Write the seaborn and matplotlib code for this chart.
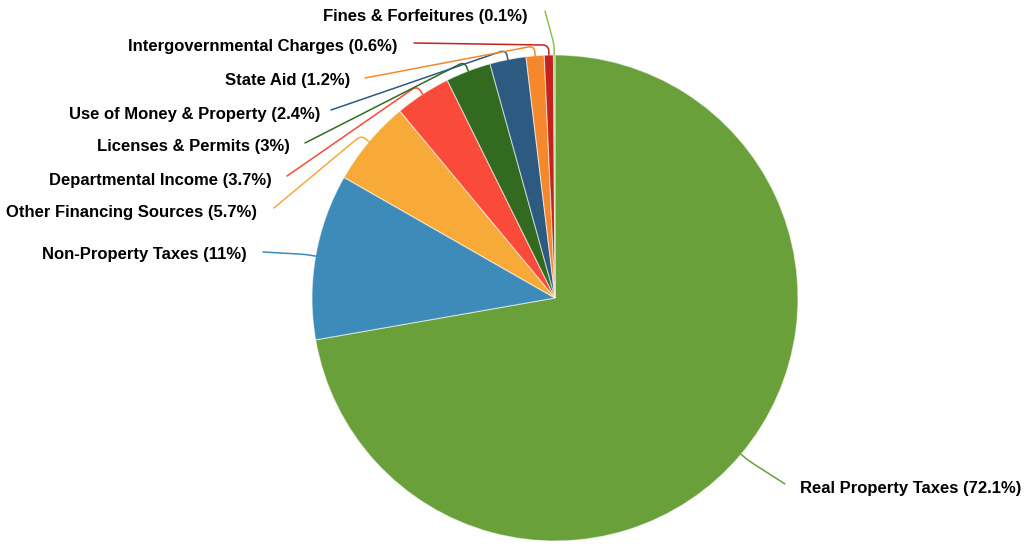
import matplotlib
matplotlib.use("Agg")
import matplotlib.pyplot as plt
import seaborn as sns
import numpy as np
from matplotlib.path import Path
from matplotlib.patches import PathPatch

# Revenue sources and their share of the total (percent)
categories = [
    "Real Property Taxes",
    "Non-Property Taxes",
    "Other Financing Sources",
    "Departmental Income",
    "Licenses & Permits",
    "Use of Money & Property",
    "State Aid",
    "Intergovernmental Charges",
    "Fines & Forfeitures",
]
shares = [72.1, 11, 5.7, 3.7, 3, 2.4, 1.2, 0.6, 0.1]
slice_colors = [
    "#6aa03a", "#3d8bb8", "#f7aa38", "#fa4a3a", "#326a20",
    "#2c5a80", "#f5882c", "#c4221c", "#8cc34c",
]

# Label layout in pixel coordinates: text anchor x, text y, connector end, alignment
label_xy = [(800, 488), (247, 255), (257, 213), (272, 180), (290, 147),
            (320, 114), (350, 81), (398, 47), (528, 16)]
connector_end = [(785, 484), (263, 252), (274, 208), (287, 176), (305, 143),
                 (331, 110), (365, 78), (414, 43), (545, 11)]
label_align = ["left"] + ["right"] * 8

W, H = 1027, 544
CX, CY, R = 555, 298, 243

sns.set_theme(style="white")
plt.rcParams["font.family"] = ["Liberation Sans", "DejaVu Sans"]

fig = plt.figure(figsize=(W / 100, H / 100), dpi=100)
ax = fig.add_axes([0, 0, 1, 1])

wedges, _ = ax.pie(
    shares,
    colors=slice_colors,
    startangle=90,
    counterclock=False,
    center=(CX, H - CY),
    radius=R,
    wedgeprops=dict(edgecolor=(1, 1, 1, 0.55), linewidth=0.8),
)
ax.set_xlim(0, W)
ax.set_ylim(0, H)
ax.set_aspect("equal")
ax.axis("off")


def rounded_connector(p0, p1, p2, k=6.0):
    p0, p1, p2 = map(np.asarray, (p0, p1, p2))
    d0 = p0 - p1
    d2 = p2 - p1
    n0 = np.linalg.norm(d0)
    n2 = np.linalg.norm(d2)
    kk = min(k, n0 * 0.6, n2 * 0.5)
    a = p1 + d0 / n0 * kk
    b = p1 + d2 / n2 * kk
    verts = [p0, a, p1, b, p2]
    codes = [Path.MOVETO, Path.LINETO, Path.CURVE3, Path.CURVE3, Path.LINETO]
    return Path(verts, codes)


for w, name, share, col, (tx, ty), (ex, ey), ha in zip(
    wedges, categories, shares, slice_colors, label_xy, connector_end, label_align
):
    mid = np.deg2rad((w.theta1 + w.theta2) / 2)
    cx, cy = w.center
    p0 = (cx + w.r * np.cos(mid), cy + w.r * np.sin(mid))
    p1 = (cx + (w.r + 10) * np.cos(mid), cy + (w.r + 10) * np.sin(mid))
    p2 = (ex, H - ey)
    ax.add_patch(PathPatch(rounded_connector(p0, p1, p2), fill=False,
                           edgecolor=col, linewidth=1.1, capstyle="round"))
    pct = f"{share:g}"
    ax.text(tx, H - ty, f"{name} ({pct}%)", ha=ha, va="center",
            fontsize=12, fontweight="bold", color="#000000")

fig.savefig("out.png", dpi=100)
